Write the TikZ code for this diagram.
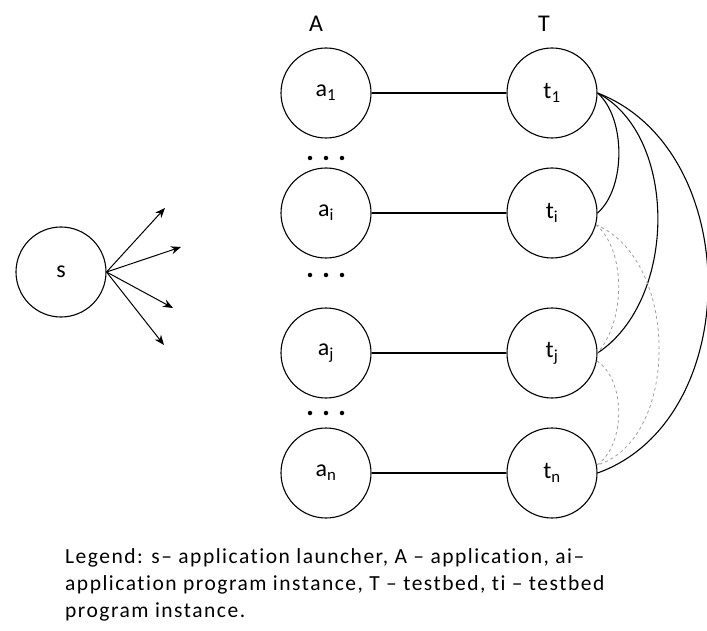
\documentclass[tikz,border=0pt]{standalone}
\usepackage{fontspec}
\setmainfont{Carlito}
\usetikzlibrary{arrows.meta}
\begin{document}
\begin{tikzpicture}[x=1pt,y=-1pt,
  vert/.style={circle,draw,line width=1.1pt,minimum size=90pt,inner sep=0pt,font=\fontsize{24}{26}\selectfont},
  link/.style={line width=1.1pt},
  dlink/.style={gray!75,dashed,line width=0.8pt},
  arr/.style={line width=1pt,-{Stealth[length=10pt,width=8pt]}},
  dot/.style={fill,circle,inner sep=0pt,minimum size=4.5pt},
  hdr/.style={font=\fontsize{24}{26}\selectfont}]
\useasboundingbox (0,0) rectangle (707,631);
\node[vert] (s) at (61,272) {s};
\node[vert] (a1) at (326,93) {a\textsubscript{1}};
\node[vert] (ai) at (326,213) {a\textsubscript{i}};
\node[vert] (aj) at (326,353) {a\textsubscript{j}};
\node[vert] (an) at (326,473) {a\textsubscript{n}};
\node[vert] (t1) at (552,93) {t\textsubscript{1}};
\node[vert] (ti) at (552,213) {t\textsubscript{i}};
\node[vert] (tj) at (552,353) {t\textsubscript{j}};
\node[vert] (tn) at (552,473) {t\textsubscript{n}};
\node[hdr] (lA) at (316,24) {A};
\node[hdr] (lT) at (544,24) {T};
\foreach \y in {158,275,413}
  \foreach \x in {310,326,342}
    \node[dot] at (\x,\y) {};
\coordinate (e1) at (165,208);
\coordinate (e2) at (181,247);
\coordinate (e3) at (173,308);
\coordinate (e4) at (164,345);
\foreach \e in {e1,e2,e3,e4} \draw[arr] (s.east) -- (\e);
\draw[link] (a1) -- (t1);
\draw[link] (ai) -- (ti);
\draw[link] (aj) -- (tj);
\draw[link] (an) -- (tn);
% solid curves
\draw[link] (t1.east) .. controls (626,118) and (626,188) .. (ti.east);
\draw[link] (t1.east) .. controls (678,135) and (678,300) .. (tj.east);
\draw[link] (t1.east) .. controls (745,150) and (745,420) .. (tn.east);
% dashed curves
\draw[dlink] (ti.-15) .. controls (626,250) and (626,320) .. (tj.east);
\draw[dlink] (ti.-15) .. controls (680,260) and (680,440) .. (tn.10);
\draw[dlink] (tj.-10) .. controls (626,380) and (626,445) .. (tn.10);
\node[anchor=base west,align=left,inner sep=0pt,font=\fontsize{21.5}{27}\selectfont\addfontfeatures{LetterSpace=7,Ligatures=NoCommon}] (leg) at (65,617)
 {Legend: s-- application launcher, A -- application, ai--\\application program instance, T -- testbed, ti -- testbed\\program instance.};
\end{tikzpicture}
\end{document}
